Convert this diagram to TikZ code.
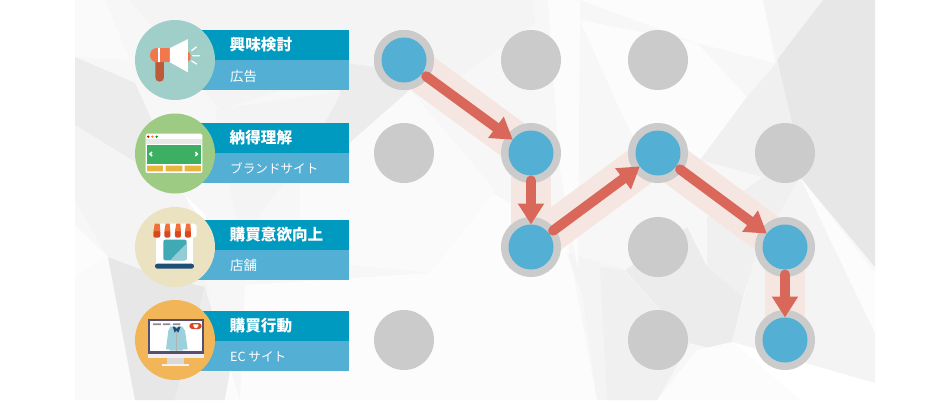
\documentclass[tikz,border=0pt]{standalone}
\usepackage{fontspec}
\newfontfamily\jp{Noto Sans CJK JP}
\usetikzlibrary{arrows.meta}
\definecolor{bgbase}{HTML}{F7F7F7}
\definecolor{barA}{HTML}{0099BF}
\definecolor{barB}{HTML}{53AFD3}
\definecolor{dotgray}{HTML}{CBCBCB}
\definecolor{arrowred}{HTML}{D9685A}
\definecolor{bandpink}{HTML}{F6E6E1}
\definecolor{mega}{HTML}{F1774F}
\definecolor{megadark}{HTML}{BC5A3A}
\definecolor{webgreen}{HTML}{3DAF63}
\definecolor{webyellow}{HTML}{E6B53B}
\definecolor{storered}{HTML}{D9471F}
\definecolor{storeorange}{HTML}{F0703A}
\definecolor{storeteal}{HTML}{3FA9B4}
\definecolor{storelight}{HTML}{94CCD5}
\definecolor{storenavy}{HTML}{1F4F79}
\definecolor{monframe}{HTML}{574F6D}
\definecolor{jacket}{HTML}{9CD0DC}
\colorlet{gA}{black!4.5}
\colorlet{gB}{black!6}
\colorlet{gC}{black!7.5}
\colorlet{gD}{black!9.5}
\colorlet{wA}{black!2}
\colorlet{wB}{black!1.2}
\tikzset{
  dot/.style={circle,fill=dotgray,draw=none,minimum size=60pt,inner sep=0pt,outer sep=0pt},
  active/.style={circle,fill=barB,draw=none,minimum size=45pt,inner sep=0pt,outer sep=0pt},
  band/.style={draw=bandpink,line width=40pt},
  flow/.style={draw=arrowred,line width=10pt,line cap=round,shorten <=5pt,-{Triangle[width=25pt,length=21pt]}},
  icon/.style={circle,minimum size=80pt,inner sep=0pt,outer sep=0pt,draw=none},
  maintext/.style={anchor=west,inner sep=0pt,text=white,font=\jp\bfseries\fontsize{15.6}{17}\selectfont},
  subtext/.style={anchor=west,inner sep=0pt,text=white,font=\jp\fontsize{12.6}{15}\selectfont},
  subkanji/.style={subtext,font=\jp\fontsize{13.4}{15}\selectfont},
  icoscope/.style={x=0.3333pt,y=-0.3333pt}
}
\begin{document}
\begin{tikzpicture}[x=1pt,y=-1pt]
\useasboundingbox (0,0) rectangle (950,400);
\fill[white] (0,0) rectangle (950,400);
% background
\begin{scope}
\clip (75,0) rectangle (875,400);
\fill[bgbase] (75,0) rectangle (875,400);
% left side
\fill[wA] (75,0) -- (105,0) -- (130,60) -- (75,57) -- cycle;
\fill[gA] (130,0) -- (533,0) -- (535,23) -- (460,77) -- (350,67) -- (220,110) -- cycle;
\fill[gC] (75,57) -- (135,83) -- (185,193) -- (75,125) -- cycle;
\fill[gA] (75,125) -- (185,193) -- (210,300) -- (108,257) -- (75,200) -- cycle;
\fill[wB] (75,225) -- (108,257) -- (75,277) -- cycle;
\fill[wA] (75,277) -- (108,257) -- (135,400) -- (75,400) -- cycle;
\fill[gD] (108,257) -- (155,275) -- (205,287) -- (175,400) -- (135,400) -- cycle;
\fill[gC] (205,287) -- (232,360) -- (225,400) -- (175,400) -- cycle;
\fill[wB] (205,287) -- (240,400) -- (225,400) -- (232,360) -- cycle;
\fill[white] (183,193) -- (205,215) -- (215,240) -- cycle;
\fill[gA] (215,110) -- (348,90) -- (290,175) -- (240,240) -- cycle;
% middle
\fill[gC] (340,62) -- (393,70) -- (410,90) -- (345,147) -- (300,170) -- (340,95) -- cycle;
\fill[wA] (300,170) -- (345,147) -- (410,90) -- (495,190) -- (430,273) -- (300,260) -- cycle;
\fill[wB] (245,285) -- (430,273) -- (493,193) -- (567,240) -- (597,400) -- (240,400) -- cycle;
\fill[gA] (567,253) -- (627,270) -- (650,300) -- (657,400) -- (597,400) -- (583,297) -- cycle;
\fill[wB] (548,0) -- (580,0) -- (578,270) -- (560,170) -- cycle;
% right
\fill[wB] (580,0) -- (763,0) -- (775,63) -- (697,43) -- cycle;
\fill[wB] (580,20) -- (697,43) -- (747,97) -- (700,160) -- (640,150) -- (620,110) -- cycle;
\fill[gA] (763,0) -- (823,0) -- (777,60) -- cycle;
\fill[gD] (777,60) -- (823,0) -- (875,0) -- (875,267) -- (800,177) -- (792,123) -- cycle;
\fill[gB] (747,97) -- (777,62) -- (792,123) -- (800,177) -- (763,177) -- (700,160) -- cycle;
\fill[gB] (707,217) -- (763,177) -- (800,177) -- (757,253) -- (743,297) -- (707,267) -- cycle;
\fill[gC] (625,270) -- (687,227) -- (707,267) -- (743,297) -- (732,342) -- (717,350) -- (690,343) -- cycle;
\fill[bgbase] (625,227) -- (687,227) -- (625,270) -- (600,262) -- cycle;
\fill[gB] (600,267) -- (623,270) -- (690,343) -- (657,400) -- (607,400) -- cycle;
\fill[gA] (800,177) -- (875,333) -- (875,383) -- (732,342) -- (757,253) -- cycle;
\fill[wB] (800,177) -- (875,273) -- (875,333) -- cycle;
\fill[white] (732,342) -- (875,383) -- (875,400) -- (800,400) -- cycle;
\fill[wB] (732,342) -- (800,400) -- (657,400) -- (697,350) -- cycle;
\end{scope}
% left labels
\foreach \t/\m/\b in {30/60/90,122.5/152.5/182.5,220/250/280,311/341/371}{
  \fill[barA] (195,\t) rectangle (349,\m);
  \fill[barB] (195,\m) rectangle (349,\b);
}
\node[maintext] (t1) at (229.5,45) {興味検討};
\node[subkanji] (s1) at (230,76) {広告};
\node[maintext] (t2) at (229.5,138) {納得理解};
\node[subtext] (s2) at (230,168) {ブランドサイト};
\node[maintext] (t3) at (229.5,235) {購買意欲向上};
\node[subkanji] (s3) at (230,265.5) {店舗};
\node[maintext] (t4) at (229.5,326) {購買行動};
\node[subtext] (s4) at (230,357) {EC サイト};
% icon circles
\node[icon,fill={rgb,255:red,160;green,206;blue,201}] (i1) at (175,60) {};
\node[icon,fill={rgb,255:red,157;green,203;blue,132}] (i2) at (175,153.5) {};
\node[icon,fill={rgb,255:red,234;green,226;blue,192}] (i3) at (175,247) {};
\node[icon,fill={rgb,255:red,242;green,182;blue,88}] (i4) at (175,340) {};
% megaphone
\begin{scope}[shift={(135,20)},icoscope]
\fill[megadark,rounded corners=4.2pt] (61,110) rectangle (87,185);
\fill[mega] (159,95) .. controls (170,100) and (170,120) .. (159,125) -- cycle;
\fill[mega,rounded corners=7pt] (45,84) rectangle (95,127);
\fill[mega] (70,84) rectangle (108,127);
\fill[white] (70,84) rectangle (74,127);
\fill[white] (105,84) -- (159,57) -- (159,157) -- (105,127) -- cycle;
\draw[white,line width=1.3pt,line cap=round] (170,92) -- (184,81) (173,107) -- (194,107) (170,123) -- (185,132);
\end{scope}
% browser
\begin{scope}[shift={(135,113)},icoscope]
\fill[white,rounded corners=1.5pt] (32,62) rectangle (202,180);
\fill[black!9] (32,79) rectangle (202,92);
\fill[webgreen] (36,95) rectangle (198,153);
\fill[webyellow] (36,158) rectangle (84,175) (92,158) rectangle (142,175) (149,158) rectangle (198,175);
\fill[red!75!black] (40,71) circle (1.3pt);
\fill[orange] (52,71) circle (1.3pt);
\fill[green!60!black] (65,71) circle (1.3pt);
\draw[white,line width=1.6pt] (51,117) -- (45,123) -- (51,129) (181,117) -- (187,123) -- (181,129);
\end{scope}
% store
\begin{scope}[shift={(135,207)},icoscope]
\fill[white] (63,80) rectangle (175,172);
\fill[white,rounded corners=3pt] (55,50) rectangle (185,92);
\foreach \a/\bb in {55/76,88/106,120/138,150/168}{
  \fill[storered,rounded corners=2pt] (\a,70) rectangle (\bb,92);
  \fill[storeorange] (\a+4,50) -- (\bb-2,50) -- (\bb,72) -- (\a,72) -- cycle;
}
\fill[storeteal,rounded corners=2pt] (85,98) rectangle (155,160);
\fill[storelight,rounded corners=2pt] (155,109) -- (155,160) -- (105,160) -- cycle;
\fill[storenavy,rounded corners=2.4pt] (60,170) rectangle (177,185);
\end{scope}
% monitor
\begin{scope}[shift={(135,300)},icoscope]
\fill[monframe] (38,57) rectangle (207,163);
\fill[white] (44,64) rectangle (201,152);
\fill[black!6] (38,163) rectangle (207,174);
\fill[black!15] (97,174) rectangle (148,191);
\fill[black!5] (82,191) rectangle (163,199);
\fill[black!45] (54,70) rectangle (78,75) (84,70) rectangle (106,75) (114,70) rectangle (136,75);
\fill[jacket] (106,80) -- (142,80) -- (150,92) -- (158,148) -- (144,148) -- (144,152) -- (104,152) -- (104,148) -- (93,148) -- (100,92) -- cycle;
\fill[storenavy] (113,80) -- (119,98) -- (124,92) -- (130,98) -- (137,80) -- (131,80) -- (125,86) -- (119,80) -- cycle;
\draw[black!30,line width=0.4pt] (125,92) -- (125,152);
\fill[storered,rounded corners=3pt] (163,69) rectangle (200,87);
\fill[white] (175,73) rectangle (190,80) (178,80) rectangle (187,84);
\end{scope}
% circles
\node[dot] (a1) at (404,60) {};
\node[dot] (b1) at (531,60) {};
\node[dot] (c1) at (658,60) {};
\node[dot] (a2) at (404,153) {};
\node[dot] (d2) at (785,153) {};
\node[dot] (c3) at (658,247) {};
\node[dot] (a4) at (404,340) {};
\node[dot] (c4) at (658,340) {};
\coordinate (p1) at (404,60);
\coordinate (p2) at (531,153);
\coordinate (p3) at (531,247);
\coordinate (p4) at (658,153);
\coordinate (p5) at (785,247);
\coordinate (p6) at (785,340);
\draw[band] (p1) -- (p2);
\draw[band] (p2) -- (p3);
\draw[band] (p3) -- (p4);
\draw[band] (p4) -- (p5);
\draw[band] (p5) -- (p6);
\foreach \n in {1,...,6}{
  \node[dot] at (p\n) {};
  \node[active] (n\n) at (p\n) {};
}
\draw[flow] (n1) -- (n2);
\draw[flow] (n2) -- (n3);
\draw[flow] (n3) -- (n4);
\draw[flow] (n4) -- (n5);
\draw[flow] (n5) -- (n6);
\end{tikzpicture}
\end{document}
